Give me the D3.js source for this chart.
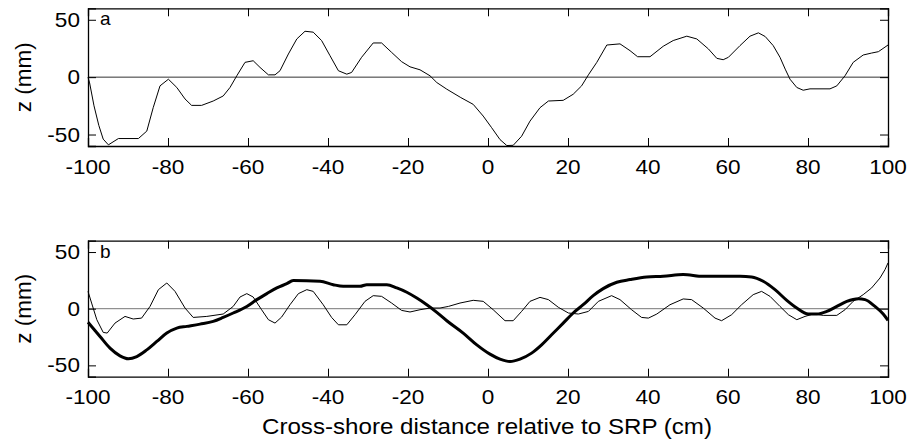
<!DOCTYPE html>
<html>
<head>
<meta charset="utf-8">
<script src="https://cdn.jsdelivr.net/npm/d3@7"></script>
<style>
  html, body { margin: 0; padding: 0; background: #fff; }
  svg { display: block; }
  text { font-family: "Liberation Sans", Arial, Helvetica, sans-serif; fill: #000; }
</style>
</head>
<body>
<svg id="chart" width="912" height="444"></svg>
<script>
// ---- data (x in cm, z in mm) ----
const xTicks = [-100, -80, -60, -40, -20, 0, 20, 40, 60, 80, 100];
const yTicks = [-50, 0, 50];
const panelLabels = ["a", "b"];
const yLabel = "z (mm)";
const xLabel = "Cross-shore distance relative to SRP (cm)";

const profileA = [
  [-100, 0], [-99.6, -5], [-98.5, -25], [-97.3, -42], [-96.2, -54], [-94.9, -59],
  [-92.4, -53.5], [-87.4, -53.5], [-85.3, -47], [-83.7, -26.6], [-82, -7.6], [-79.9, -1.8],
  [-77.8, -9], [-75.75, -19], [-74.1, -24.6], [-71.6, -24.6], [-68.7, -20.8], [-66.2, -16.4],
  [-64.5, -9], [-62.8, 1.2], [-60.75, 12.9], [-58.7, 14.3], [-57, 8.5], [-54.9, 2],
  [-53.25, 2], [-52, 5.6], [-49.9, 20.2], [-47.8, 33.3], [-45.75, 40], [-43.7, 39.2],
  [-41.6, 31.9], [-39.5, 18.7], [-37.4, 5.6], [-35.3, 2.6], [-34.1, 4.1], [-31.6, 17.3],
  [-28.7, 29.8], [-26.6, 29.8], [-24.1, 21.6], [-21.6, 13.5], [-19.5, 9], [-17, 6.4],
  [-14.5, 1.2], [-12.8, -4.7], [-10.3, -10.5], [-6.8, -17.8], [-3.7, -23.7], [-1.2, -33.9],
  [0.9, -44], [3, -54.4], [4.7, -59.6], [6.3, -59.4], [8.4, -51.5], [10.5, -38.3],
  [13, -26.6], [15.1, -20.8], [18.8, -20.2], [21.3, -14.9], [23.4, -7.6], [25.1, 2],
  [27.2, 12.9], [29.7, 28], [33, 29], [35.5, 23.1], [37.4, 17.8], [40.5, 17.8],
  [43.8, 26.9], [46.3, 31.9], [49.7, 35.7], [52.2, 33.3], [55.1, 24.6], [57.2, 16.4],
  [58.8, 15.2], [60.1, 17.3], [63, 27.5], [65.5, 35.7], [67.6, 38.6], [69.3, 35.4],
  [71.3, 27.5], [73, 17.3], [74.3, 7], [75.5, -1.8], [77.2, -9], [78.8, -11.4],
  [80.5, -10.2], [85.5, -10.2], [87.2, -7.6], [89.25, 1.2], [91.3, 12.9], [93.8, 19.3],
  [95.9, 21], [97.6, 22.2], [100, 28]
];

const profileBThin = [
  [-100, 15.3], [-99.1, 5], [-97.8, -9.7], [-96.2, -20.9], [-95.2, -21.5], [-93.25, -12.7],
  [-90.75, -6.8], [-88.7, -9.1], [-86.6, -8.3], [-84.5, 2], [-82.4, 16.8], [-80.3, 22.7],
  [-78.25, 15.3], [-75.75, 0.6], [-73.7, -7.7], [-70.3, -6.8], [-66.2, -4.7], [-63.7, 2],
  [-62, 10.3], [-60.3, 13.3], [-58.7, 10.3], [-56.6, -0.9], [-54.9, -9.7], [-53.25, -12.7],
  [-51.6, -7.4], [-49.5, 3.5], [-47.4, 13.3], [-45.3, 16.8], [-43.7, 15.3], [-41.2, 3.5],
  [-39.1, -7.7], [-37.4, -14.2], [-35.3, -14.2], [-33.25, -5.3], [-30.75, 6.5], [-28.7, 11.5],
  [-26.6, 10.9], [-24.1, 5], [-21.6, -1.5], [-19.5, -2.9], [-17, -0.9], [-14.5, 0.6],
  [-12, 0.6], [-9.9, 2], [-7, 5], [-3.7, 7.4], [-1.2, 6.5], [1.3, -0.9],
  [4.25, -10.6], [6.3, -10.6], [8.4, -2.4], [10.5, 6.5], [13, 10], [15.1, 8],
  [17.6, 1.2], [20.1, -3.8], [22.6, -4.7], [25.1, -2.4], [27.6, 6.5], [30.9, 11.5],
  [33, 8], [35.9, -0.9], [38.4, -7.7], [40.1, -8.3], [42.2, -4.7], [45.5, 3.5],
  [48.8, 8.6], [50.9, 8], [53.8, 0.6], [56.75, -8.3], [58.4, -10.6], [60.9, -5.3],
  [63.4, 3.5], [66.3, 12.4], [68.4, 15.3], [70.5, 10.9], [73, 2], [75.1, -5.3],
  [77.2, -9.7], [79.25, -6.8], [81.3, -4.7], [83.8, -5.9], [87.2, -5.9], [89.25, -0.9],
  [91.3, 6.5], [93.8, 12.4], [95.9, 18.3], [98, 27.1], [99.25, 34.5], [100, 40.4]
];

const profileBThick = [
  [-100, -12], [-97, -24.5], [-94.5, -34.8], [-92, -41.6], [-89.9, -44.2], [-87.8, -42.2],
  [-85.3, -36.3], [-82.8, -28.9], [-80.3, -21.5], [-77.8, -17.1], [-75.3, -15.6], [-72, -13.6],
  [-68.7, -11.2], [-66.2, -7.7], [-63.7, -3.8], [-60.3, 2], [-57.8, 8], [-55.3, 13.3],
  [-52.8, 18.3], [-50.3, 22.1], [-48.7, 24.8], [-42, 24.2], [-38.7, 21.2], [-36.2, 19.8],
  [-32, 19.8], [-30.3, 21.2], [-25.3, 21.2], [-22.8, 18.3], [-20.3, 14.5], [-17.8, 9.4],
  [-15.3, 3.5], [-12.8, -3.2], [-10.3, -10.6], [-6.2, -21.5], [-2.8, -31.9], [0.5, -40.1],
  [3, -44.5], [5.5, -46.6], [8, -44.5], [10.9, -39.2], [13.4, -31.9], [15.9, -23],
  [18.8, -12.7], [21.3, -3.8], [23.8, 3.5], [26.3, 11.5], [28.8, 17.7], [32.2, 23.3],
  [35.5, 25.7], [39.7, 28], [43.8, 28.6], [48.8, 30.1], [53.8, 28.6], [63, 28.6],
  [65.9, 28], [68.8, 24.2], [71.75, 16.8], [74.7, 7.4], [77.2, 0.6], [80.1, -4.7],
  [82.2, -4.7], [84.7, -2.4], [87.2, 2], [89.7, 6.5], [92.6, 8.8], [94.25, 8],
  [96.75, 2], [98.8, -4.7], [100, -10.3]
];

// ---- layout ----
const svg = d3.select("#chart");
const left = 88, right = 888;
const panels = [
  { top: 8.3, bottom: 146, label: panelLabels[0], series: [ { data: profileA, width: 1, curve: d3.curveLinear } ], zeroColor: "#333" },
  { top: 240.7, bottom: 376.7, label: panelLabels[1], series: [
      { data: profileBThin, width: 1, curve: d3.curveLinear },
      { data: profileBThick, width: 3, curve: d3.curveMonotoneX } ], zeroColor: "#777" }
];

const x = d3.scaleLinear().domain([-100, 100]).range([left, right]);
const tickLen = 8;
const hStretch = 1.13;

panels.forEach(p => {
  const y = d3.scaleLinear().domain([-60, 60]).range([p.bottom, p.top]);
  const g = svg.append("g");

  // zero line
  g.append("line")
    .attr("x1", x(-100)).attr("x2", x(100))
    .attr("y1", y(0)).attr("y2", y(0))
    .attr("stroke", p.zeroColor).attr("stroke-width", 1);

  // series
  p.series.forEach(s => {
    const line = d3.line().x(d => x(d[0])).y(d => y(d[1])).curve(s.curve);
    g.append("path").datum(s.data)
      .attr("d", line)
      .attr("fill", "none")
      .attr("stroke", "#000")
      .attr("stroke-width", s.width)
      .attr("stroke-linejoin", "round");
  });

  // axes (inward ticks, MATLAB-like box)
  const axB = d3.axisBottom(x).tickValues(xTicks).tickSize(-tickLen).tickFormat("");
  const axT = d3.axisTop(x).tickValues(xTicks).tickSize(-tickLen).tickFormat("");
  const axL = d3.axisLeft(y).tickValues(yTicks).tickSize(-tickLen).tickFormat("");
  const axR = d3.axisRight(y).tickValues(yTicks).tickSize(-tickLen).tickFormat("");
  g.append("g").attr("transform", `translate(0,${p.bottom})`).call(axB);
  g.append("g").attr("transform", `translate(0,${p.top})`).call(axT);
  g.append("g").attr("transform", `translate(${left},0)`).call(axL);
  g.append("g").attr("transform", `translate(${right},0)`).call(axR);
  g.selectAll(".domain").attr("stroke", "#000").attr("stroke-width", 1.3);
  g.selectAll(".tick line").attr("stroke", "#000").attr("stroke-width", 1);

  // tick labels
  xTicks.forEach(t => {
    g.append("text")
      .attr("transform", `translate(${x(t)},${p.bottom + 27.5}) scale(${hStretch},1)`)
      .attr("text-anchor", "middle")
      .attr("font-size", 20)
      .text(t);
  });
  yTicks.forEach(t => {
    g.append("text")
      .attr("transform", `translate(${left - 8},${y(t) + 7}) scale(${hStretch},1)`)
      .attr("text-anchor", "end")
      .attr("font-size", 20)
      .text(t);
  });

  // panel letter
  g.append("text")
    .attr("x", left + 12).attr("y", p.top + 17)
    .attr("font-size", 19)
    .text(p.label);

  // y label
  g.append("text")
    .attr("transform", `translate(31,${(p.top + p.bottom) / 2}) rotate(-90)`)
    .attr("text-anchor", "middle")
    .attr("font-size", 22.5)
    .text(yLabel);
});

// x label
svg.append("text")
  .attr("x", 487).attr("y", 433.5)
  .attr("text-anchor", "middle")
  .attr("font-size", 22)
  .attr("textLength", 450)
  .attr("lengthAdjust", "spacingAndGlyphs")
  .text(xLabel);
</script>
</body>
</html>
